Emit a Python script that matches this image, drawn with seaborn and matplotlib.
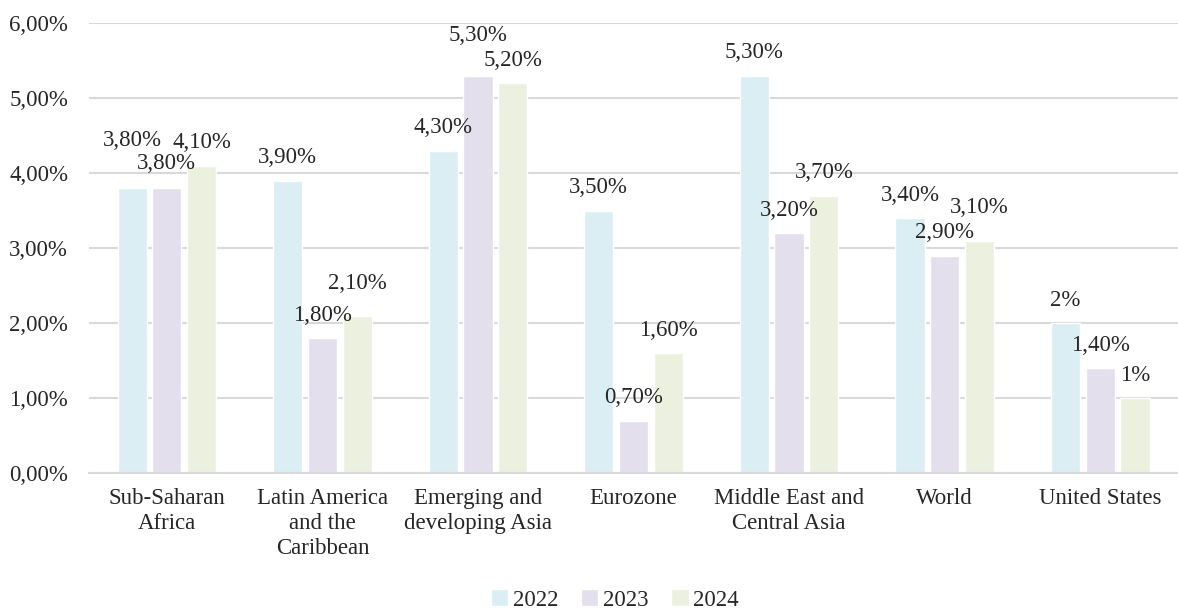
import matplotlib
matplotlib.use("Agg")
import matplotlib.pyplot as plt
import seaborn as sns
import pandas as pd

regions = ["Sub-Saharan\nAfrica", "Latin America\nand the\nCaribbean", "Emerging and\ndeveloping Asia",
           "Eurozone", "Middle East and\nCentral Asia", "World", "United States"]
years = ["2022", "2023", "2024"]
growth_2022 = [3.8, 3.9, 4.3, 3.5, 5.3, 3.4, 2.0]
growth_2023 = [3.8, 1.8, 5.3, 0.7, 3.2, 2.9, 1.4]
growth_2024 = [4.1, 2.1, 5.2, 1.6, 3.7, 3.1, 1.0]
y_ticks = [0, 1, 2, 3, 4, 5, 6]

# extra vertical label shift (pixels) to mimic the reference's overlap avoidance
extra_shift = {
    "2022": [25, 0, 0, 0, 0, 0, 0],
    "2023": [2, 0, 17, 0, 0, 0, 0],
    "2024": [0, 9, 0, 0, 0, 10, 0],
}

colors = ["#daeef3", "#e4dfec", "#ebf1de"]

df = pd.DataFrame({
    "region": regions * 3,
    "year": sum([[y] * len(regions) for y in years], []),
    "value": growth_2022 + growth_2023 + growth_2024,
})

sns.set_theme(style="white")
plt.rcParams["font.family"] = ["Liberation Serif", "DejaVu Serif"]

FS = 16.5
fig = plt.figure(figsize=(11.78, 6.09), dpi=100)
ax = fig.add_axes([0.0756, 0.2233, 0.9244, 0.7389])

sns.barplot(data=df, x="region", y="value", hue="year", palette=colors,
            width=0.67, gap=0.16, ax=ax, legend=True, saturation=1)

ax.set_ylim(0, 6)
ax.set_xlim(-0.5, 6.5)
ax.set_yticks(y_ticks)
ax.set_yticklabels([f"{t:.2f}".replace(".", ",") + "%" for t in y_ticks])
ax.yaxis.grid(True, color="#d9d9d9", linewidth=1.5)
ax.set_axisbelow(True)
for s in ["top", "right", "left"]:
    ax.spines[s].set_visible(False)
ax.spines["bottom"].set_color("#d9d9d9")
ax.spines["bottom"].set_linewidth(1.5)
ax.tick_params(axis="y", length=0, pad=15, labelsize=FS, labelcolor="#262626")
ax.tick_params(axis="x", length=0, pad=11, labelsize=FS, labelcolor="#262626")
for lbl in ax.get_xticklabels():
    lbl.set_linespacing(1.25)
ax.set_xlabel("")
ax.set_ylabel("")


def fmt(v):
    if float(v).is_integer():
        return f"{int(v)}%"
    return f"{v:.2f}".replace(".", ",") + "%"


for year, container in zip(years, ax.containers):
    for i, bar in enumerate(container):
        v = bar.get_height()
        ax.annotate(fmt(v), (bar.get_x() + bar.get_width() / 2, v),
                    xytext=(0, 23 + extra_shift[year][i]), textcoords="offset pixels",
                    ha="center", va="center", fontsize=FS, color="#262626")

handles, labels = ax.get_legend_handles_labels()
ax.get_legend().remove()
fig.legend(handles, labels, loc="center", bbox_to_anchor=(0.522, 0.015), ncol=3,
           frameon=False, fontsize=FS, handlelength=0.75, handleheight=0.75,
           handletextpad=0.2, columnspacing=1.0, labelcolor="#262626")

fig.savefig("out.png", dpi=100)
